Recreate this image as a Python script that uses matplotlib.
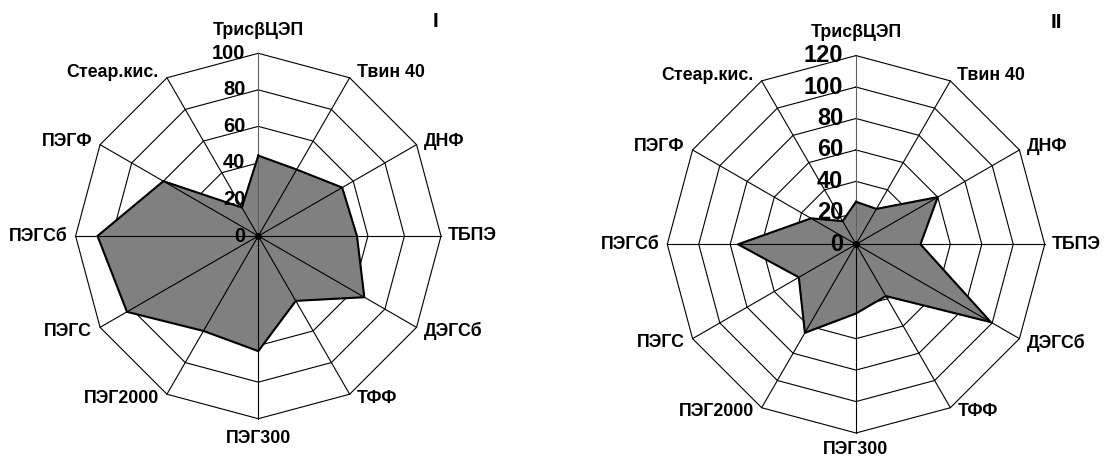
import numpy as np
import matplotlib
matplotlib.use("Agg")
import matplotlib.pyplot as plt

plt.rcParams["font.family"] = ["Liberation Sans", "DejaVu Sans"]
plt.rcParams["font.weight"] = "bold"

categories = ["ТрисβЦЭП", "Твин 40", "ДНФ", "ТБПЭ", "ДЭГСб", "ТФФ",
              "ПЭГ300", "ПЭГ2000", "ПЭГС", "ПЭГСб", "ПЭГФ", "Стеар.кис."]
values_I = [44, 42, 53, 54, 67, 41, 63, 60, 83, 88, 60, 18]
values_II = [27, 26, 60, 41, 99, 38, 44, 65, 42, 75, 33, 17]
ticks_I = [0, 20, 40, 60, 80, 100]
ticks_II = [0, 20, 40, 60, 80, 100, 120]
panel_titles = ["I", "II"]


def radar(fig, rect, values, ticks, tick_fs, bottom_gap):
    ax = fig.add_axes(rect, projection="polar")
    ax.set_theta_zero_location("N")
    ax.set_theta_direction(-1)
    ax.set_axis_off()
    rmax = ticks[-1]
    ax.set_ylim(0, rmax)

    n = len(categories)
    theta = np.arange(n) * 2 * np.pi / n
    closed = np.append(theta, theta[0])

    # polygonal rings
    for t in ticks[1:]:
        ax.plot(closed, [t] * (n + 1), color="black", lw=0.8,
                zorder=1, clip_on=False)

    # data polygon
    vals = np.append(values, values[0])
    ax.fill(closed, vals, color="#808080", zorder=2, clip_on=False)

    # spokes
    for i, th in enumerate(theta):
        ax.plot([th, th], [0, rmax], color="#606060" if i == 0 else "black",
                lw=0.8, zorder=3, clip_on=False)

    ax.plot(closed, vals, color="black", lw=1.5, zorder=4, clip_on=False)
    ax.plot([0], [0], "o", color="black", ms=4, zorder=5, clip_on=False)

    # value labels along the vertical axis
    for t in ticks:
        ax.annotate(str(t), xy=(0, t), xytext=(-13, 0),
                    textcoords="offset pixels", ha="right", va="center",
                    fontsize=tick_fs, fontweight="bold", zorder=6,
                    annotation_clip=False)

    # category labels
    dy_right = {1: 5, 2: 3, 3: 0, 4: -4, 5: -4}
    for i, (th, name) in enumerate(zip(theta, categories)):
        if i == 0:
            off, ha = (0, 23), "center"
        elif i == n // 2:
            off, ha = (0, -bottom_gap), "center"
        elif i < n // 2:
            off, ha = (7, dy_right[i]), "left"
        else:
            off, ha = (-8, dy_right[n - i]), "right"
        ax.annotate(name, xy=(th, rmax), xytext=off,
                    textcoords="offset pixels", ha=ha, va="center",
                    fontsize=12.8, fontweight="bold", annotation_clip=False)
    return ax


fig = plt.figure(figsize=(11.04, 4.59), dpi=100)
fig.patch.set_facecolor("white")

W, H = 1104, 459


def rect_for(cx, cy, r):
    return [(cx - r) / W, (H - cy - r) / H, 2 * r / W, 2 * r / H]


radar(fig, rect_for(258.3, 236.0, 182.7), values_I, ticks_I, 14.5, 20)
radar(fig, rect_for(856.0, 244.3, 188.7), values_II, ticks_II, 17, 16)

fig.text(435.8 / W, 1 - 21.7 / H, panel_titles[0], ha="center", va="center",
         fontsize=15, fontweight="bold")
fig.text(1056 / W, 1 - 22 / H, panel_titles[1], ha="center", va="center",
         fontsize=15, fontweight="bold")

fig.savefig("out.png", dpi=100, facecolor="white")
